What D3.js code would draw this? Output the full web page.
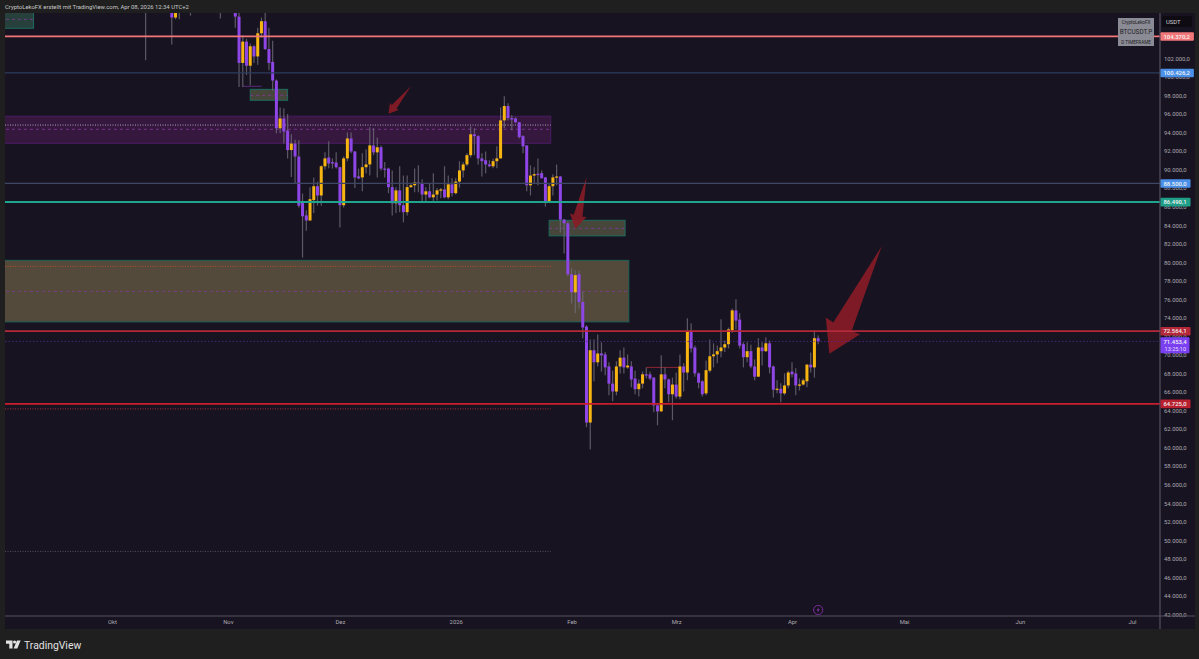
<!DOCTYPE html>
<html lang="de">
<head>
<meta charset="utf-8"/>
<title>BTCUSDT.P</title>
<script src="https://cdnjs.cloudflare.com/ajax/libs/d3/7.8.5/d3.min.js"></script>
<style>
  html, body { margin: 0; padding: 0; background: #1f1f1f; overflow: hidden; }
  text { font-family: Roboto, "Liberation Sans", sans-serif; }
  .price-axis text, .time-axis text { font-size: 5.9px; fill: #aaa9b0; }
  .price-axis path, .time-axis path { display: none; }
</style>
</head>
<body>
<div id="chart"></div>
<script>
// daily candles in thousands of USDT, first candle is firstDay, one per day
var firstDay = "2025-10-10";
var candleOpen = [
  121.6,113,110.8,115,115.2,113,110.8,108.2,106.4,107.2,
  108.6,110.5,108.4,107.6,110.1,111,111.6,114.5,114.1,113,
  110,108.3,109.6,110.1,110.6,106.5,101.5,103.8,101.2,103.3,
  102.2,104.7,106,103,101.6,99.6,94.45,95.5,94.2,92.1,
  92.8,91.4,86.5,85.05,84.5,86.7,88.2,87.2,90.35,91.3,
  90.8,90.75,90.25,86.15,91.2,93.35,91.95,89.25,89.15,90.25,
  90.55,92.6,91.85,92.4,90.1,90.1,88.1,86.35,87.75,86.15,
  85.4,88.1,88.3,88.6,88.5,87.3,87.65,87,87.3,87.75,
  87.85,87,88.4,87.45,88.7,89.9,90.55,91.55,93.8,93.6,
  91.2,91,90.55,90.35,90.9,91.2,95.3,96.85,95.55,95.5,
  95.1,93.6,92.6,88.3,89.35,89.55,89.6,89.15,86.45,88.2,
  89.15,89.25,84.6,84.2,78.7,76.75,78.7,75.7,73.05,62.7,
  70.5,69.2,70.15,70.05,68.75,66.9,66.05,68.75,69.7,68.65,
  68.75,67.45,66.3,66.9,67.9,67.9,67.55,64.55,63.9,67.9,
  67.35,65.75,66.8,65.5,68.75,68.1,72.55,70.8,68,67.15,
  65.85,68.3,69.85,70.05,70.4,70.8,71.15,72.65,74.8,73.8,
  71.15,69.75,70.4,68.75,67.65,70.8,70.4,71.25,68.75,66.3,
  66.35,65.85,66.7,68.2,68,66.7,66.8,67.15,68.95,68.65,71.8];
var candleHigh = [
  122.5,113.5,115.4,115.9,115.4,113.5,111.9,109.2,107.5,109.5,
  111.7,113.9,109.2,111.3,112,111.9,115.5,116.2,114.8,113.6,
  111.6,111,110.5,111,110.7,107.2,104.5,104.1,103.6,103.4,
  105.3,106.4,107,105.3,103.9,99.7,96.7,96.6,96,93.8,
  93.2,93.15,87.4,85.6,88.1,89.15,88.7,90.45,91.85,93.05,
  91.2,91.85,90.3,91.4,94,94,92,90.1,91.75,92.2,
  94.55,94.45,93.45,92.6,90.8,90.2,89.9,88.1,90.35,89.35,
  89.35,88.5,90.1,90.45,88.95,88.1,88.5,89.6,88,88,
  90.35,89.35,89.05,89.05,90.9,90.8,91.75,94.65,94.45,93.7,
  91.75,91.95,91,91.2,92.5,96.7,97.9,97.15,95.85,95.65,
  95.1,93.7,92.6,90.45,90.25,91.2,89.9,89.2,88.5,89.5,
  90.55,89.3,84.65,84.4,79.35,79.1,79.1,76.85,73.2,71.65,
  71.65,72.2,71.35,70.3,69.2,68.3,69.3,70.5,70.8,70.05,
  69.3,68.3,67.35,68.2,68.65,68.2,67.6,64.75,69.95,68.65,
  67.45,67.55,68.1,70.05,69.1,73.95,73.4,71,68.1,67.25,
  69.4,71.65,71.25,71,73.85,71.55,72.95,75,76,74.5,
  71.35,71.35,71.1,69.5,71.8,71.35,71.9,71.55,68.85,67.25,
  66.95,68,68.3,69.2,68.55,67.45,67.45,69,70.25,72.65,72.1];
var candleLow = [
  101.8,109.7,109.5,113.5,110,110.8,107.4,103.5,106.2,106.2,
  107.4,107.5,106.6,107.5,110,110.5,111.2,113.5,112.2,109.2,
  106.3,108,109.4,109.7,105.3,98.9,98.9,100.2,99.1,101.5,
  101.3,104.2,102.9,100.7,98.5,93.9,93.9,92.8,91.2,89.2,
  88.5,85.9,80.5,83.4,84.5,85.3,86.1,86.1,90,90.15,
  90.1,90.1,83.75,85.9,90.9,91.75,88,88.95,87.65,89.6,
  89.35,91.55,89.15,89.9,89.15,87.45,85.05,85.3,85.4,84.3,
  85.05,88,87.55,87.55,86.45,86.45,86.9,86.55,86.65,86.9,
  86.9,86.8,87.1,87.3,88.05,89.15,90.35,91.3,91.55,90.55,
  89.25,89.6,90.25,90.15,90.15,91.2,94.45,95.3,94.25,95,
  93.35,91.75,87.65,87.2,88.5,88.3,89.05,86,86.45,87.2,
  88.3,83.2,80.95,78.45,75.55,74.5,75,71.8,62.2,59.8,
  67.15,68.75,68.2,67.8,65.65,65,65.65,68,68,68.5,
  66.5,65.75,65.5,66.4,67.45,67.25,63.8,62.4,63.9,66.4,
  64.9,62.95,65.3,65.2,66.05,67.25,70.25,67.65,66.4,65.5,
  65.65,68.1,68.65,69.1,69.75,70.3,70.7,72.4,72.75,70.7,
  68.65,69.2,68.55,67.25,67.65,68.85,70.3,68,65.4,65.85,
  64.9,65.65,66.4,67.55,65.65,66.15,66.7,66.5,68.1,67.55,71.15];
var candleClose = [
  113,110.8,115,115.2,113,110.8,108.2,106.4,107.2,108.6,
  110.5,108.4,107.6,110.1,111,111.6,114.5,114.1,113,110,
  108.3,109.6,110.1,110.6,106.5,101.5,103.8,101.2,103.3,102.2,
  104.7,106,103,101.5,99.6,94.45,95.5,94.1,92.1,92.8,
  91.4,86.1,84.95,84.5,86.8,88.2,87.2,90.35,91.2,90.65,
  90.65,90.25,86.15,91.2,93.35,91.95,89.15,89.05,90.25,90.55,
  92.6,91.85,92.4,90.1,90,88.1,86.35,87.75,86.15,85.4,
  88.1,88.3,88.6,88.5,87.3,87.65,87,87.3,87.75,87.85,
  87,88.4,87.45,88.7,89.9,90.55,91.55,93.8,93.6,91.2,
  90.9,90.55,90.35,90.9,91.2,95.3,96.85,95.55,95.4,95.1,
  93.5,92.5,88.3,89.35,89.5,89.4,89.05,86.45,88.2,89.15,
  89.25,84.6,84.2,78.7,76.75,78.6,75.7,72.95,62.7,70.5,
  69.2,70.15,69.95,68.65,66.9,66.05,68.75,69.7,68.65,68.85,
  67.35,66.3,66.9,67.9,67.8,67.45,64.55,63.9,67.9,67.35,
  65.75,66.8,65.5,68.75,68.1,72.55,70.7,68,67,65.75,
  68.35,69.85,70.05,70.4,70.8,71.15,72.75,74.8,73.7,71,
  69.75,70.4,68.75,67.65,70.8,70.4,71.25,68.65,66.25,66.35,
  65.85,66.7,68.1,67.9,66.7,66.8,67.25,68.95,68.65,71.8,71.45];

// axis ticks
var priceTicks = [102,100,98,96,94,92,90,88,86,84,82,80,78,76,74,72,70,68,66,64,62,60,58,56,54,52,50,48,46,44,42];
var monthDates = ["2025-10-01","2025-11-01","2025-12-01","2026-01-01","2026-02-01","2026-03-01","2026-04-01","2026-05-01","2026-06-01","2026-07-01"];
var monthLabels = ["Okt","Nov","Dez","2026","Feb","Mrz","Apr","Mai","Jun","Jul"];

// full width horizontal levels and their price tags
var levelPrices = [104.3702, 100.4262, 88.5, 86.4901, 72.5641, 64.725];
var levelLines  = ["#f2777a", "#2c3c5e", "#3d4663", "#1fa58e", "#b4283a", "#c81f2f"];
var levelTags   = ["#f2777a", "#4a90e8", "#4a90e8", "#1f9e88", "#b4283a", "#b8202f"];
var levelWidths = [1.8, 1.3, 1.2, 2, 1.7, 1.7];
var lastPrice = 71.4534;
var countdown = "13:25:10";

// zones: from, to, top, bottom
var zoneFrom   = ["2025-09-01","2025-11-07","2025-09-01","2026-01-26","2025-09-01"];
var zoneTo     = ["2025-09-10","2025-11-17","2026-01-26T10:00Z","2026-02-15T08:00Z","2026-02-16T08:00Z"];
var zoneTop    = [108, 98.65, 95.75, 84.52, 80.2];
var zoneBottom = [105.24, 97.47, 92.83, 82.84, 73.56];
var zoneMid    = [106.2, 98.0, 94.34, 83.65, 76.85];
var zoneFill   = ["#28403c", "#46463b", "#36183f", "#46463b", "#544a3b"];
var zoneEdge   = ["#1c6b5e", "#1c6b5e", "#4a1b63", "#1c6b5e", "#1c6158"];

// dotted levels ending at the zones' right edge
var dottedPrices = [94.8, 79.55, 64.17, 48.8];
var dottedColors = ["#a9a4b0", "#b3502f", "#a8303a", "#55535c"];
var dottedEnd = "2026-01-26T10:00Z";

// short trend segments: from, to, price
var segFrom  = ["2025-11-05","2026-02-21"];
var segTo    = ["2025-11-10","2026-03-02"];
var segPrice = [98.98, 68.65];
var segColor = ["#5c2a78", "#8e2433"];

// drawn arrows: tail and tip
var arrowTailDay   = ["2025-12-20","2026-02-05","2026-04-25"];
var arrowTailPrice = [98.98, 89.19, 81.71];
var arrowTipDay    = ["2025-12-14","2026-02-02","2026-04-11"];
var arrowTipPrice  = [96.03, 83.62, 70.13];

var width = 1199, height = 659;
var paneLeft = 5, paneRight = 1160, paneTop = 13, paneBottom = 616, panelRight = 1195, panelBottom = 629;

var svg = d3.select("#chart").append("svg").attr("width", width).attr("height", height).style("display", "block");

var x = d3.scaleUtc().domain([new Date("2025-10-01"), new Date("2026-07-01")]).range([112, 1132]);
var y = d3.scaleLinear().domain([42, 102]).range([614.4, 58.3]);

var deLocale = d3.formatLocale({ decimal: ",", thousands: ".", grouping: [3], currency: ["", ""] });
var fmt = deLocale.format(",.1f");
function priceText(v) { return fmt(v * 1000); }

svg.append("rect").attr("width", width).attr("height", height).attr("fill", "#1f1f1f");
svg.append("rect").attr("x", paneLeft).attr("y", paneTop)
  .attr("width", panelRight - paneLeft).attr("height", panelBottom - paneTop).attr("fill", "#181320");

svg.append("text").attr("x", 5).attr("y", 9).attr("font-size", 5.9).attr("fill", "#c9c9c9")
  .text("CryptoLekoFX erstellt mit TradingView.com, Apr 08, 2026 12:34 UTC+2");

svg.append("clipPath").attr("id", "pane").append("rect")
  .attr("x", paneLeft).attr("y", paneTop).attr("width", paneRight - paneLeft).attr("height", paneBottom - paneTop);
var pane = svg.append("g").attr("clip-path", "url(#pane)");

// zones
zoneTop.forEach(function(t, i) {
  var x0 = x(new Date(zoneFrom[i])), x1 = x(new Date(zoneTo[i]));
  pane.append("rect").attr("x", x0).attr("y", y(t))
    .attr("width", x1 - x0).attr("height", y(zoneBottom[i]) - y(t))
    .attr("fill", zoneFill[i]).attr("stroke", zoneEdge[i]).attr("stroke-width", 1);
  pane.append("line").attr("x1", x0).attr("x2", x1).attr("y1", y(zoneMid[i])).attr("y2", y(zoneMid[i]))
    .attr("stroke", "#843a9c").attr("stroke-width", 0.8).attr("stroke-dasharray", "3 3");
});

// dotted levels
dottedPrices.forEach(function(p, i) {
  pane.append("line").attr("x1", paneLeft).attr("x2", x(new Date(dottedEnd))).attr("y1", y(p)).attr("y2", y(p))
    .attr("stroke", dottedColors[i]).attr("stroke-width", 1).attr("stroke-dasharray", "1 1.5");
});

// short segments
segPrice.forEach(function(p, i) {
  pane.append("line").attr("x1", x(new Date(segFrom[i]))).attr("x2", x(new Date(segTo[i]))).attr("y1", y(p)).attr("y2", y(p))
    .attr("stroke", segColor[i]).attr("stroke-width", 1);
});

// candles
var candles = d3.range(candleOpen.length).map(function(i) {
  return { day: d3.utcDay.offset(new Date(firstDay), i), o: candleOpen[i], h: candleHigh[i], l: candleLow[i], c: candleClose[i] };
});
var upColor = "#f7b512", downColor = "#8f46e6";

pane.append("g").selectAll("line").data(candles).enter().append("line")
  .attr("x1", function(d) { return x(d.day); })
  .attr("x2", function(d) { return x(d.day); })
  .attr("y1", function(d) { return y(d.h); })
  .attr("y2", function(d) { return y(d.l); })
  .attr("stroke", "#6e6a77").attr("stroke-opacity", 0.8).attr("stroke-width", 1.2);

pane.append("g").selectAll("rect").data(candles).enter().append("rect")
  .attr("x", function(d) { return x(d.day) - 1.5; })
  .attr("y", function(d) { return y(Math.max(d.o, d.c)); })
  .attr("width", 3)
  .attr("height", function(d) { return Math.max(1.2, Math.abs(y(d.o) - y(d.c))); })
  .attr("fill", function(d) { return d.c >= d.o ? upColor : downColor; });

// arrows
var arrowPath = d3.line();
arrowTipPrice.forEach(function(p, i) {
  var tx = x(new Date(arrowTailDay[i])), ty = y(arrowTailPrice[i]);
  var hx = x(new Date(arrowTipDay[i])), hy = y(p);
  var len = Math.hypot(tx - hx, ty - hy);
  var ux = (tx - hx) / len, uy = (ty - hy) / len, nx = -uy, ny = ux;
  function at(along, side) { return [hx + ux * along * len + nx * side * len, hy + uy * along * len + ny * side * len]; }
  pane.append("path")
    .attr("d", arrowPath([[tx, ty], at(0.25, 0.085), at(0.26, 0.16), [hx, hy], at(0.26, -0.16), at(0.25, -0.085)]) + "Z")
    .attr("fill", "#8a1c26").attr("fill-opacity", 0.9);
});

// last price level
pane.append("line").attr("x1", paneLeft).attr("x2", paneRight).attr("y1", y(lastPrice)).attr("y2", y(lastPrice))
  .attr("stroke", "#4f2a96").attr("stroke-width", 0.8).attr("stroke-dasharray", "1.5 2");

// full width levels
levelPrices.forEach(function(p, i) {
  pane.append("line").attr("x1", paneLeft).attr("x2", paneRight).attr("y1", y(p)).attr("y2", y(p))
    .attr("stroke", levelLines[i]).attr("stroke-width", levelWidths[i]);
});

// event marker
var marker = svg.append("g").attr("transform", "translate(" + x(new Date("2026-04-08")) + ",610)");
marker.append("circle").attr("r", 4.6).attr("fill", "none").attr("stroke", "#7a2c9c").attr("stroke-width", 1);
marker.append("path").attr("d", "M0.8 -2.8L-1.6 0.4H0L-0.8 2.8L1.6 -0.4H0Z").attr("fill", "#8a3db0");

// axes
var priceAxis = d3.axisRight(y).tickValues(priceTicks).tickSize(0).tickPadding(0).tickFormat(priceText);
svg.append("g").attr("class", "price-axis").attr("transform", "translate(1164,0)").call(priceAxis);

var timeAxis = d3.axisBottom(x).tickValues(monthDates.map(function(d) { return new Date(d); }))
  .tickSize(0).tickPadding(0).tickFormat(function(d, i) { return monthLabels[i]; });
svg.append("g").attr("class", "time-axis").attr("transform", "translate(0,620)").call(timeAxis);

svg.append("line").attr("x1", paneLeft).attr("x2", panelRight).attr("y1", paneBottom).attr("y2", paneBottom)
  .attr("stroke", "#55535f").attr("stroke-width", 1.2);
svg.append("line").attr("x1", paneRight).attr("x2", paneRight).attr("y1", paneTop).attr("y2", panelBottom)
  .attr("stroke", "#55535f").attr("stroke-width", 1.2);

// price tags
function priceTag(p, color) {
  var g = svg.append("g");
  var t = g.append("text").attr("x", paneRight + 3.5).attr("y", y(p) + 2.2)
    .attr("font-size", 5.9).attr("font-weight", 500).attr("fill", "#f4f4f4").text(priceText(p));
  var w = t.node().getComputedTextLength() + 7;
  g.insert("rect", "text").attr("x", paneRight + 0.5).attr("y", y(p) - 4.2)
    .attr("width", w).attr("height", 8.6).attr("rx", 1).attr("fill", color);
}
levelPrices.forEach(function(p, i) { priceTag(p, levelTags[i]); });

// last price tag with countdown
var lastG = svg.append("g");
lastG.append("rect").attr("x", paneRight + 0.5).attr("y", y(lastPrice) - 4.2).attr("width", 29).attr("height", 16)
  .attr("rx", 1).attr("fill", "#7a3ff0");
lastG.append("text").attr("x", paneRight + 3.5).attr("y", y(lastPrice) + 2.2).attr("font-size", 5.9)
  .attr("font-weight", 500).attr("fill", "#f4f4f4").text(priceText(lastPrice));
lastG.append("text").attr("x", paneRight + 4.5).attr("y", y(lastPrice) + 9.6).attr("font-size", 5.6)
  .attr("fill", "#e6dcff").text(countdown);

// currency box
svg.append("rect").attr("x", 1162).attr("y", 16).attr("width", 30).attr("height", 11).attr("rx", 1).attr("fill", "#0e0b12");
svg.append("text").attr("x", 1166).attr("y", 23.5).attr("font-size", 5.9).attr("fill", "#d0d0d4").text("USDT");

// chart label box
svg.append("rect").attr("x", 1118).attr("y", 18).attr("width", 36).attr("height", 28).attr("fill", "#8b8b95");
svg.append("text").attr("x", 1136).attr("y", 24).attr("text-anchor", "middle").attr("font-size", 4.6).attr("fill", "#1d1c24").text("CryptoLekoFX");
svg.append("text").attr("x", 1136).attr("y", 34).attr("text-anchor", "middle").attr("font-size", 6.4).attr("fill", "#1d1c24").text("BTCUSDT.P");
svg.append("text").attr("x", 1136).attr("y", 43.5).attr("text-anchor", "middle").attr("font-size", 4.6).attr("fill", "#1d1c24").text("D TIMEFRAME");

// TradingView mark
var logo = svg.append("g").attr("fill", "#e2e2e2");
logo.append("path").attr("d", "M6 640.5H12.5V648.5H9.3V643.7H6Z");
logo.append("circle").attr("cx", 14.6).attr("cy", 642).attr("r", 1.6);
logo.append("path").attr("d", "M17 640.5H20.6L17.3 648.5H13.6Z");
logo.append("text").attr("x", 24).attr("y", 648.7).attr("font-size", 10.4).attr("font-family", "Inter, Roboto, sans-serif")
  .attr("font-weight", 400).attr("fill", "#e2e2e2").text("TradingView");
</script>
</body>
</html>
